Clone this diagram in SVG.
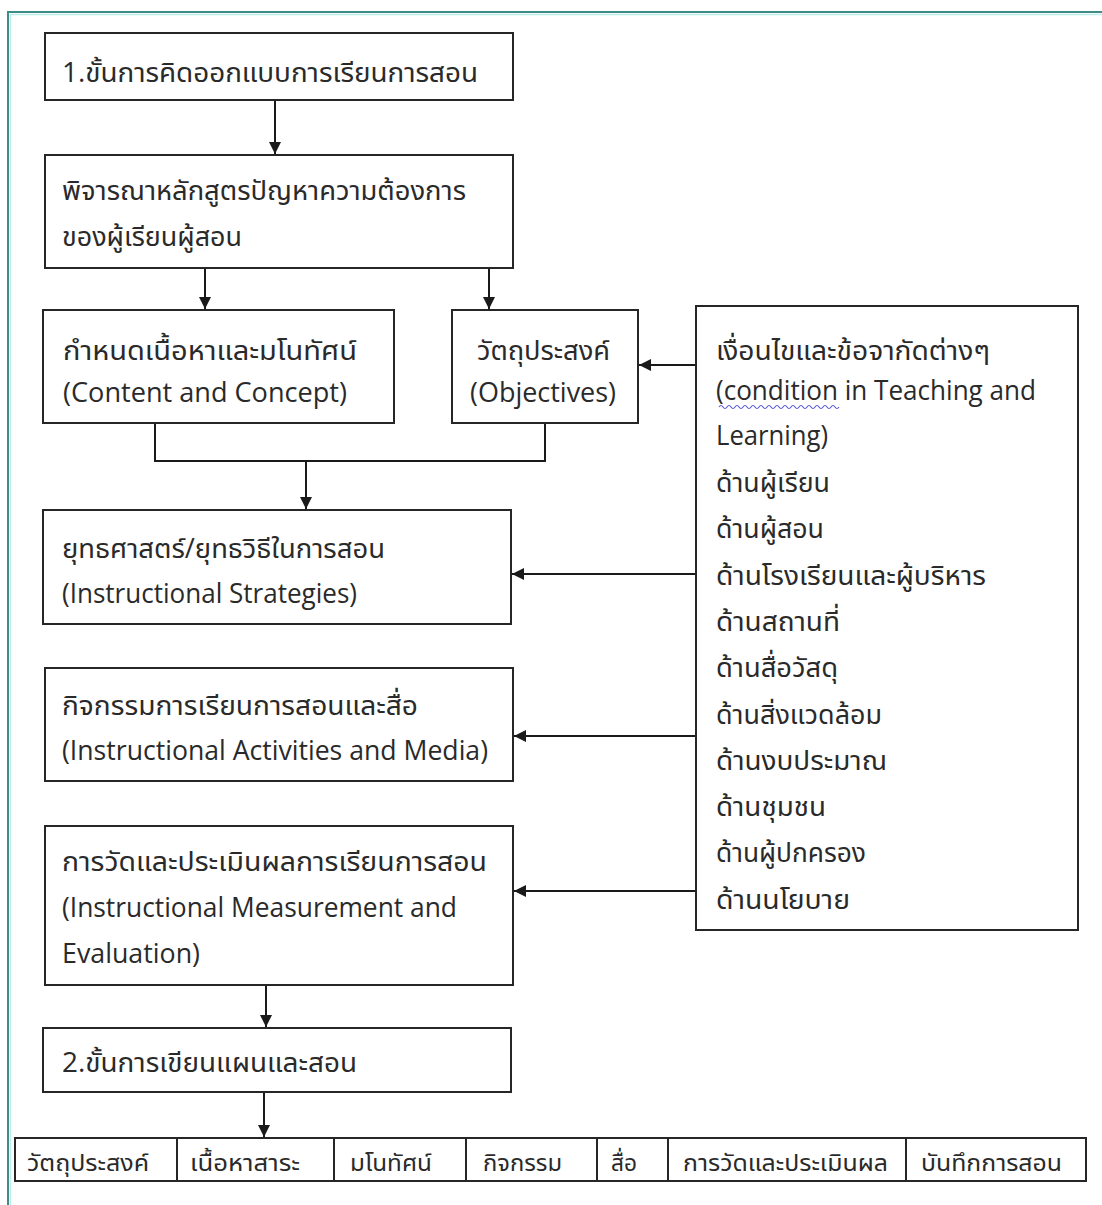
<svg xmlns="http://www.w3.org/2000/svg" width="1102" height="1205" viewBox="0 0 1102 1205">
<defs>
<marker id="ah" viewBox="0 0 12 12" refX="12" refY="6" markerWidth="12" markerHeight="12" markerUnits="userSpaceOnUse" orient="auto">
<path d="M0,0 L12,6 L0,12 Z" fill="#1a1a1a"/>
</marker>
<style>
.box{fill:#ffffff;stroke:#262626;stroke-width:2}
.t{font-family:"Open Sans","Noto Sans Thai","Noto Sans Thai UI","Leelawadee UI","Tahoma","Garuda","Loma",sans-serif;font-size:27px;fill:#2a2a2a}
.s{font-size:23px}
.c{fill:none;stroke:#1a1a1a;stroke-width:2}
.a{marker-end:url(#ah)}
</style>
</defs>
<rect x="0" y="0" width="1102" height="1205" fill="#ffffff"/>
<g id="frame">
<path d="M1102,12 H8 V1205" fill="none" stroke="#3d8c88" stroke-width="2"/>
<path d="M1102,14.5 H10.5 V1205" fill="none" stroke="#bfeeea" stroke-width="1.5"/>
</g>
<g id="connectors">
<line class="c a" x1="275" y1="100" x2="275" y2="154"/>
<line class="c a" x1="205" y1="268" x2="205" y2="309"/>
<line class="c a" x1="489" y1="268" x2="489" y2="309"/>
<polyline class="c" points="155,423 155,461 545,461 545,423"/>
<line class="c a" x1="306" y1="461" x2="306" y2="509"/>
<line class="c a" x1="696" y1="365" x2="639" y2="365"/>
<line class="c a" x1="696" y1="574" x2="512" y2="574"/>
<line class="c a" x1="696" y1="736" x2="514" y2="736"/>
<line class="c a" x1="696" y1="891" x2="514" y2="891"/>
<line class="c a" x1="266" y1="985" x2="266" y2="1027"/>
<line class="c a" x1="264" y1="1092" x2="264" y2="1137"/>
</g>
<g id="n1">
<rect class="box" x="45" y="33" width="468" height="67"/>
<text class="t" x="62" y="82" textLength="416" lengthAdjust="spacingAndGlyphs">1.ขั้นการคิดออกแบบการเรียนการสอน</text>
</g>
<g id="n2">
<rect class="box" x="45" y="155" width="468" height="113"/>
<text class="t" x="62" y="200" textLength="404" lengthAdjust="spacingAndGlyphs">พิจารณาหลักสูตรปัญหาความต้องการ</text>
<text class="t" x="62" y="246" textLength="180" lengthAdjust="spacingAndGlyphs">ของผู้เรียนผู้สอน</text>
</g>
<g id="n3">
<rect class="box" x="43" y="310" width="351" height="113"/>
<text class="t" x="63" y="360" textLength="294" lengthAdjust="spacingAndGlyphs">กำหนดเนื้อหาและมโนทัศน์</text>
<text class="t" x="63" y="402" textLength="284" lengthAdjust="spacingAndGlyphs">(Content and Concept)</text>
</g>
<g id="n4">
<rect class="box" x="452" y="310" width="186" height="113"/>
<text class="t" x="477" y="360" textLength="133" lengthAdjust="spacingAndGlyphs">วัตถุประสงค์</text>
<text class="t" x="470" y="402" textLength="146" lengthAdjust="spacingAndGlyphs">(Objectives)</text>
</g>
<g id="n5">
<rect class="box" x="696" y="306" width="382" height="624"/>
<text class="t" x="716" y="360" textLength="274" lengthAdjust="spacingAndGlyphs">เงื่อนไขและข้อจากัดต่างๆ</text>
<text class="t" x="716" y="400" textLength="320" lengthAdjust="spacingAndGlyphs">(condition in Teaching and</text>
<path d="M719,407 q2,-3 4,0 t4,0 t4,0 t4,0 t4,0 t4,0 t4,0 t4,0 t4,0 t4,0 t4,0 t4,0 t4,0 t4,0 t4,0 t4,0 t4,0 t4,0 t4,0 t4,0 t4,0 t4,0 t4,0 t4,0 t4,0 t4,0 t4,0 t4,0 t4,0 t4,0" fill="none" stroke="#5a5ad8" stroke-width="1.2"/>
<text class="t" x="716" y="445" textLength="112" lengthAdjust="spacingAndGlyphs">Learning)</text>
<text class="t" x="716" y="492" textLength="114" lengthAdjust="spacingAndGlyphs">ด้านผู้เรียน</text>
<text class="t" x="716" y="538" textLength="108" lengthAdjust="spacingAndGlyphs">ด้านผู้สอน</text>
<text class="t" x="716" y="585" textLength="270" lengthAdjust="spacingAndGlyphs">ด้านโรงเรียนและผู้บริหาร</text>
<text class="t" x="716" y="631" textLength="124" lengthAdjust="spacingAndGlyphs">ด้านสถานที่</text>
<text class="t" x="716" y="677" textLength="122" lengthAdjust="spacingAndGlyphs">ด้านสื่อวัสดุ</text>
<text class="t" x="716" y="724" textLength="166" lengthAdjust="spacingAndGlyphs">ด้านสิ่งแวดล้อม</text>
<text class="t" x="716" y="770" textLength="171" lengthAdjust="spacingAndGlyphs">ด้านงบประมาณ</text>
<text class="t" x="716" y="816" textLength="110" lengthAdjust="spacingAndGlyphs">ด้านชุมชน</text>
<text class="t" x="716" y="862" textLength="150" lengthAdjust="spacingAndGlyphs">ด้านผู้ปกครอง</text>
<text class="t" x="716" y="909" textLength="134" lengthAdjust="spacingAndGlyphs">ด้านนโยบาย</text>
</g>
<g id="n6">
<rect class="box" x="43" y="510" width="468" height="114"/>
<text class="t" x="62" y="558" textLength="323" lengthAdjust="spacingAndGlyphs">ยุทธศาสตร์/ยุทธวิธีในการสอน</text>
<text class="t" x="62" y="603" textLength="295" lengthAdjust="spacingAndGlyphs">(Instructional Strategies)</text>
</g>
<g id="n7">
<rect class="box" x="45" y="668" width="468" height="113"/>
<text class="t" x="62" y="715" textLength="356" lengthAdjust="spacingAndGlyphs">กิจกรรมการเรียนการสอนและสื่อ</text>
<text class="t" x="62" y="760" textLength="426" lengthAdjust="spacingAndGlyphs">(Instructional Activities and Media)</text>
</g>
<g id="n8">
<rect class="box" x="45" y="826" width="468" height="159"/>
<text class="t" x="62" y="871" textLength="425" lengthAdjust="spacingAndGlyphs">การวัดและประเมินผลการเรียนการสอน</text>
<text class="t" x="62" y="917" textLength="395" lengthAdjust="spacingAndGlyphs">(Instructional Measurement and</text>
<text class="t" x="62" y="963" textLength="138" lengthAdjust="spacingAndGlyphs">Evaluation)</text>
</g>
<g id="n9">
<rect class="box" x="43" y="1028" width="468" height="64"/>
<text class="t" x="62" y="1072" textLength="295" lengthAdjust="spacingAndGlyphs">2.ขั้นการเขียนแผนและสอน</text>
</g>
<g id="n10">
<rect class="box" x="15" y="1138" width="1071" height="43"/>
<path d="M177,1138 V1181 M334,1138 V1181 M466,1138 V1181 M597,1138 V1181 M668,1138 V1181 M906,1138 V1181" fill="none" stroke="#262626" stroke-width="2"/>
<text class="t s" x="27" y="1171" textLength="122" lengthAdjust="spacingAndGlyphs">วัตถุประสงค์</text>
<text class="t s" x="190" y="1171" textLength="110" lengthAdjust="spacingAndGlyphs">เนื้อหาสาระ</text>
<text class="t s" x="350" y="1171" textLength="82" lengthAdjust="spacingAndGlyphs">มโนทัศน์</text>
<text class="t s" x="483" y="1171" textLength="79" lengthAdjust="spacingAndGlyphs">กิจกรรม</text>
<text class="t s" x="611" y="1171" textLength="26" lengthAdjust="spacingAndGlyphs">สื่อ</text>
<text class="t s" x="683" y="1171" textLength="205" lengthAdjust="spacingAndGlyphs">การวัดและประเมินผล</text>
<text class="t s" x="921" y="1171" textLength="141" lengthAdjust="spacingAndGlyphs">บันทึกการสอน</text>
</g>
</svg>
